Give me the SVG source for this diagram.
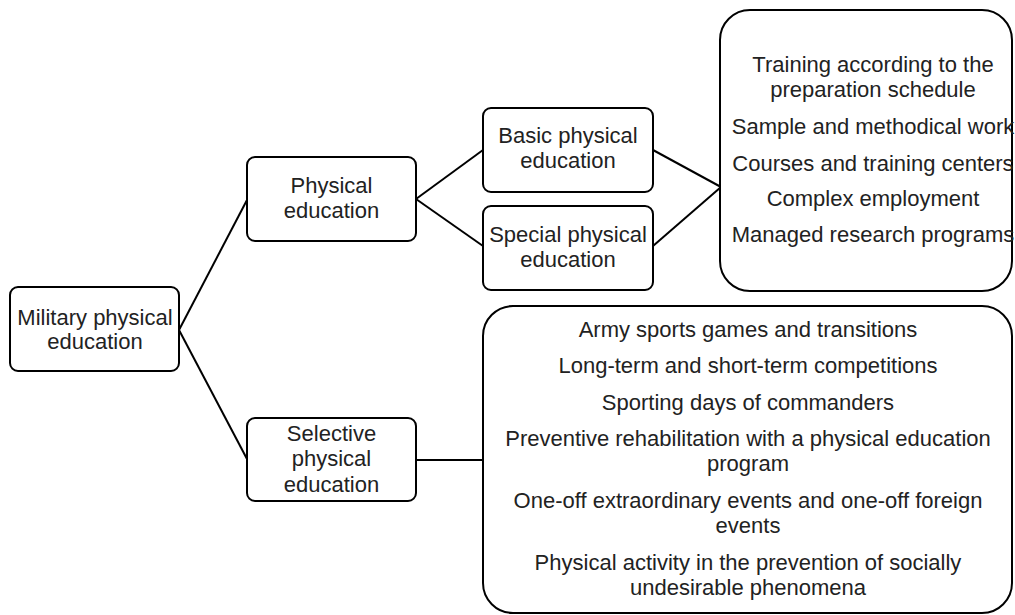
<svg xmlns="http://www.w3.org/2000/svg" width="1015" height="615" viewBox="0 0 1015 615">
<style>
.box{fill:#fff;stroke:#000;stroke-width:2}
.t{font-family:"Liberation Sans",Arial,sans-serif;font-size:22px;fill:#222;text-anchor:middle}
.c{stroke:#000;stroke-width:2;fill:none}
</style>
<rect width="1015" height="615" fill="#fff"/>
<g id="connectors">
<line class="c" x1="179" y1="330" x2="247" y2="200"/>
<line class="c" x1="179" y1="330" x2="247" y2="459"/>
<line class="c" x1="416" y1="199" x2="483" y2="150"/>
<line class="c" x1="416" y1="199" x2="483" y2="246"/>
<line class="c" x1="653" y1="150" x2="721" y2="187"/>
<line class="c" x1="653" y1="246" x2="721" y2="187"/>
<line class="c" x1="416" y1="460" x2="483" y2="460"/>
</g>
<g id="military">
<rect class="box" x="10" y="287" width="169" height="84" rx="8"/>
<text class="t" x="95" y="325">Military physical</text>
<text class="t" x="95" y="349">education</text>
</g>
<g id="physical">
<rect class="box" x="247" y="157" width="169" height="84" rx="8"/>
<text class="t" x="331.5" y="193">Physical</text>
<text class="t" x="331.5" y="218">education</text>
</g>
<g id="basic">
<rect class="box" x="483" y="108" width="170" height="84" rx="8"/>
<text class="t" x="568" y="143">Basic physical</text>
<text class="t" x="568" y="168">education</text>
</g>
<g id="special">
<rect class="box" x="483" y="206" width="170" height="84" rx="8"/>
<text class="t" x="568" y="242">Special physical</text>
<text class="t" x="568" y="267">education</text>
</g>
<g id="selective">
<rect class="box" x="247" y="418" width="169" height="83" rx="8"/>
<text class="t" x="331.5" y="441">Selective</text>
<text class="t" x="331.5" y="466">physical</text>
<text class="t" x="331.5" y="492">education</text>
</g>
<g id="training-list">
<rect class="box" x="720" y="10" width="292" height="281" rx="30"/>
<text class="t" x="873" y="72">Training according to the</text>
<text class="t" x="873" y="97">preparation schedule</text>
<text class="t" x="873" y="134">Sample and methodical work</text>
<text class="t" x="873" y="171">Courses and training centers</text>
<text class="t" x="873" y="206">Complex employment</text>
<text class="t" x="873" y="242">Managed research programs</text>
</g>
<g id="selective-list">
<rect class="box" x="483" y="306" width="529" height="307" rx="30"/>
<text class="t" x="748" y="337">Army sports games and transitions</text>
<text class="t" x="748" y="373">Long-term and short-term competitions</text>
<text class="t" x="748" y="410">Sporting days of commanders</text>
<text class="t" x="748" y="446">Preventive rehabilitation with a physical education</text>
<text class="t" x="748" y="471">program</text>
<text class="t" x="748" y="508">One-off extraordinary events and one-off foreign</text>
<text class="t" x="748" y="533">events</text>
<text class="t" x="748" y="570">Physical activity in the prevention of socially</text>
<text class="t" x="748" y="595">undesirable phenomena</text>
</g>
</svg>
